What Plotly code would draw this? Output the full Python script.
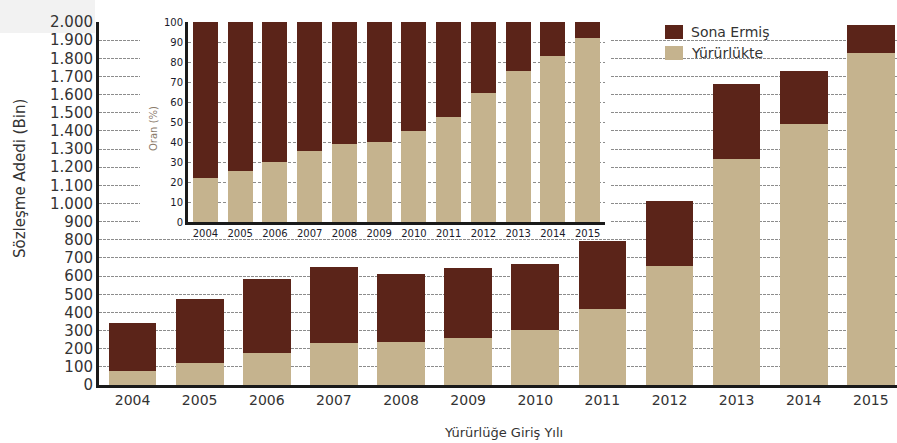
import plotly.graph_objects as go

W, H = 897, 443

# values (thousand contracts)
years = ["2004", "2005", "2006", "2007", "2008", "2009",
         "2010", "2011", "2012", "2013", "2014", "2015"]
yururlukte = [75, 119, 175, 229, 239, 257, 303, 420, 657, 1247, 1438, 1827]
sona_ermis = [265, 353, 409, 419, 372, 386, 362, 375, 358, 409, 290, 156]

# inset: shares in percent
yururlukte_oran = [22, 25.4, 30, 35.5, 39, 40, 45.7, 52.4, 64.4, 75.3, 83, 92]
sona_ermis_oran = [78, 74.6, 70, 64.5, 61, 60, 54.3, 47.6, 35.6, 24.7, 17, 8]

DARK = "#5b2419"
TAN = "#c5b38e"
TEXT = "#333333"
GRID = "#8c8c8c"
AXIS = "#1a1a1a"
FONT = "DejaVu Sans"


def fx(p):
    return p / W


def fy(p):
    return 1 - p / H


fig = go.Figure()

# main chart
fig.add_bar(x=years, y=yururlukte, name="Yürürlükte", marker=dict(color=TAN, line_width=0),
            width=0.71, xaxis="x", yaxis="y")
fig.add_bar(x=years, y=sona_ermis, name="Sona Ermiş", marker=dict(color=DARK, line_width=0),
            width=0.71, xaxis="x", yaxis="y")

# empty subplot, only used as white backdrop under the inset
fig.add_scatter(x=[], y=[], xaxis="x2", yaxis="y2", hoverinfo="skip")

# inset chart
fig.add_bar(x=years, y=yururlukte_oran, marker=dict(color=TAN, line_width=0),
            width=0.72, xaxis="x3", yaxis="y3")
fig.add_bar(x=years, y=sona_ermis_oran, marker=dict(color=DARK, line_width=0),
            width=0.72, xaxis="x3", yaxis="y3")

fig.update_layout(
    width=W, height=H,
    margin=dict(l=0, r=0, t=0, b=0),
    paper_bgcolor="white", plot_bgcolor="white",
    barmode="stack", showlegend=False, separators=",.",
    font=dict(family=FONT, color=TEXT),
    xaxis=dict(domain=[fx(99), 1], anchor="y", type="category", range=[-0.5, 11.39],
               showline=True, linewidth=3, linecolor=AXIS, ticks="", showgrid=False,
               tickfont=dict(size=14), automargin=False),
    yaxis=dict(domain=[fy(385), fy(22)], anchor="x", range=[0, 2000], dtick=100,
               tickformat=",", showline=True, linewidth=3, linecolor=AXIS, ticks="",
               showgrid=True, gridcolor=GRID, gridwidth=1, griddash="3px,1px",
               zeroline=False, tickfont=dict(size=15), automargin=False),
    xaxis2=dict(domain=[fx(140), fx(610)], anchor="y2", visible=False),
    yaxis2=dict(domain=[fy(238), fy(10)], anchor="x2", visible=False),
    xaxis3=dict(domain=[fx(188), fx(605)], anchor="y3", type="category", range=[-0.5, 11.5],
                showline=True, linewidth=3, linecolor=AXIS, ticks="", showgrid=False,
                tickfont=dict(size=10, color="#1a1a2a"), automargin=False),
    yaxis3=dict(domain=[fy(222), fy(22)], anchor="x3", range=[0, 100], dtick=10,
                showline=True, linewidth=3, linecolor=AXIS, ticks="",
                showgrid=True, gridcolor=GRID, gridwidth=1, griddash="3px,2px",
                zeroline=False, tickfont=dict(size=10, color="#1a1a2a"), automargin=False),
)

fig.add_annotation(text="Sözleşme Adedi (Bin)", x=fx(20), y=fy(179), xref="paper", yref="paper",
                   textangle=-90, showarrow=False, font=dict(size=15, color=TEXT),
                   xanchor="center", yanchor="middle")
fig.add_annotation(text="Yürürlüğe Giriş Yılı", x=fx(504), y=fy(432), xref="paper", yref="paper",
                   showarrow=False, font=dict(size=13, color=TEXT),
                   xanchor="center", yanchor="middle")
fig.add_annotation(text="Oran (%)", x=fx(153), y=fy(129), xref="paper", yref="paper",
                   textangle=-90, showarrow=False, font=dict(size=10, color="#8b7b6b"),
                   xanchor="center", yanchor="middle")

# legend drawn by hand to match the boxed squares of the original
fig.add_shape(type="rect", xref="paper", yref="paper", x0=fx(665), x1=fx(683), y0=fy(39), y1=fy(25),
              fillcolor=DARK, line_width=0, layer="above")
fig.add_shape(type="rect", xref="paper", yref="paper", x0=fx(665), x1=fx(683), y0=fy(60), y1=fy(46),
              fillcolor=TAN, line_width=0, layer="above")
fig.add_annotation(text="Sona Ermiş", x=fx(689), y=fy(32), xref="paper", yref="paper",
                   showarrow=False, font=dict(size=14, color=TEXT), xanchor="left", yanchor="middle")
fig.add_annotation(text="Yürürlükte", x=fx(689), y=fy(53), xref="paper", yref="paper",
                   showarrow=False, font=dict(size=14, color=TEXT), xanchor="left", yanchor="middle")

# light grey patch in the top-left corner of the original
fig.add_shape(type="rect", xref="paper", yref="paper", x0=0, x1=fx(95), y0=fy(33), y1=1,
              fillcolor="#f2f2f2", line_width=0, layer="below")

# the page body has a default 8px margin; drop it so the figure fills the window
fig.write_html("out.html", config={"displayModeBar": False},
               post_script="document.body.style.margin='0';")
